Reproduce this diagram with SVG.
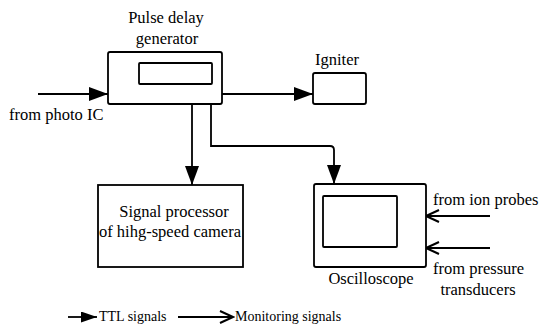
<svg xmlns="http://www.w3.org/2000/svg" width="547" height="331" viewBox="0 0 547 331">
<defs>
<style>
.box{fill:#fff;stroke:#000;stroke-width:1.8}
.ln{fill:none;stroke:#000;stroke-width:1.8}
text{font-family:'Liberation Serif','Times New Roman',Times,serif;font-size:16.5px;fill:#000}
.s{font-size:14px}
.m{text-anchor:middle}
</style>
<marker id="ttl" markerUnits="userSpaceOnUse" markerWidth="19" markerHeight="14" refX="19" refY="7" orient="auto">
<path d="M0,0 L19,7 L0,14 Z" fill="#000"/>
</marker>
<marker id="ttls" markerUnits="userSpaceOnUse" markerWidth="16" markerHeight="11" refX="16" refY="5.5" orient="auto">
<path d="M0,0 L16,5.5 L0,11 Z" fill="#000"/>
</marker>
<marker id="mon" markerUnits="userSpaceOnUse" markerWidth="16" markerHeight="16" refX="14" refY="8" orient="auto">
<path d="M1,2 L14,8 L1,14" fill="none" stroke="#000" stroke-width="2"/>
</marker>
</defs>
<rect width="547" height="331" fill="#fff"/>

<g id="connectors">
<path class="ln" d="M38,94 H108" marker-end="url(#ttl)"/>
<path class="ln" d="M222,94 H313" marker-end="url(#ttl)"/>
<path class="ln" d="M192,104 V185" marker-end="url(#ttl)"/>
<path class="ln" d="M211,104 V146 H330 Q334,146 334,150 V184" marker-end="url(#ttl)"/>
<path class="ln" d="M490,216 H426" marker-end="url(#mon)"/>
<path class="ln" d="M490,248 H426" marker-end="url(#mon)"/>
</g>

<g id="pulse-delay-generator">
<rect class="box" x="108" y="52" width="114" height="52" rx="2"/>
<rect class="box" x="139" y="63" width="73" height="21" rx="1"/>
<text class="m" x="166" y="23">Pulse delay</text>
<text class="m" x="167" y="44">generator</text>
</g>

<g id="photo-ic">
<text x="9" y="120">from photo IC</text>
</g>

<g id="igniter">
<rect class="box" x="313" y="73" width="53" height="31" rx="2"/>
<text class="m" x="337" y="65">Igniter</text>
</g>

<g id="signal-processor">
<rect class="box" x="98" y="185" width="145" height="82"/>
<text class="m" x="174" y="217">Signal processor</text>
<text class="m" x="170" y="237" font-size="16">of hihg-speed camera</text>
</g>

<g id="oscilloscope">
<rect class="box" x="314" y="184" width="112" height="83" rx="2"/>
<rect class="box" x="323" y="196" width="74" height="51" rx="1"/>
<text class="m" x="371" y="284">Oscilloscope</text>
</g>

<g id="ion-probes">
<text x="433" y="205">from ion probes</text>
</g>

<g id="pressure-transducers">
<text x="433" y="274">from pressure</text>
<text class="m" x="478" y="295">transducers</text>
</g>

<g id="legend">
<path class="ln" d="M68,317 H97" marker-end="url(#ttls)"/>
<text class="s" x="99" y="321">TTL signals</text>
<path class="ln" d="M178,317 H233" marker-end="url(#mon)"/>
<text class="s" x="235" y="321">Monitoring signals</text>
</g>
</svg>
